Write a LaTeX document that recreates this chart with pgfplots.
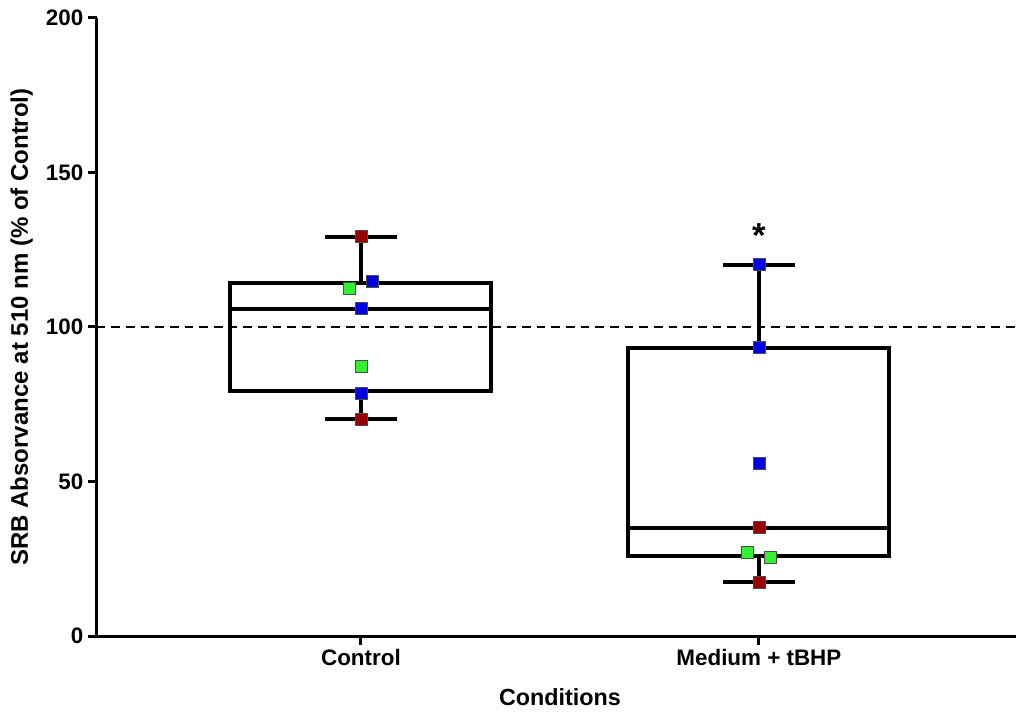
\documentclass[border=0pt]{standalone}
\usepackage{pgfplots}
\pgfplotsset{compat=1.18}
\usepackage{fontspec}
\setmainfont{Liberation Sans}
\definecolor{pr}{RGB}{155,0,0}
\definecolor{pb}{RGB}{0,0,225}
\definecolor{pg}{RGB}{50,240,50}
\begin{document}
\begin{tikzpicture}
\begin{axis}[
  scale only axis, width=689.5pt, height=463.5pt,
  xmin=-0.664, xmax=1.646, ymin=0, ymax=200,
  axis x line*=bottom, axis y line*=left,
  axis line style={line width=2.25pt, black},
  xtick={0,1}, xticklabels={Control, Medium + tBHP},
  ytick={0,50,100,150,200},
  tick align=outside, major tick length=6.5pt,
  tick style={line width=2.25pt, black},
  /pgf/number format/assume math mode=true,
  ticklabel style={font=\bfseries\fontsize{16.8}{20}\selectfont},
  xlabel={Conditions},
  ylabel={SRB Absorvance at 510 nm (\% of Control)},
  xlabel style={font=\bfseries\fontsize{17.5}{21}\selectfont, at={(axis description cs:0.504,-0.0987)}, anchor=center},
  ylabel style={font=\bfseries\fontsize{18}{21}\selectfont, at={(axis description cs:-0.0816,0.5)}, anchor=center},
  clip=false,
]
\addplot[black, line width=1.5pt, dash pattern=on 6.5pt off 4.5pt, forget plot] coordinates {(-0.664,100) (1.646,100)};

% Control box
\addplot[black, line width=3pt, line join=miter, mark=none] coordinates {(-0.328,79.3) (0.328,79.3) (0.328,114.1) (-0.328,114.1) (-0.328,79.3) (0.328,79.3)};
\addplot[black, line width=3pt, mark=none] coordinates {(-0.328,105.9) (0.328,105.9)};
\addplot[black, line width=3pt, mark=none] coordinates {(0,114.1) (0,129.2)};
\addplot[black, line width=3pt, mark=none] coordinates {(0,79.3) (0,70.2)};
\addplot[black, line width=3pt, mark=none] coordinates {(-0.0905,129.2) (0.0905,129.2)};
\addplot[black, line width=3pt, mark=none] coordinates {(-0.0905,70.2) (0.0905,70.2)};
% Medium + tBHP box
\addplot[black, line width=3pt, line join=miter, mark=none] coordinates {(0.672,26.0) (1.328,26.0) (1.328,93.1) (0.672,93.1) (0.672,26.0) (1.328,26.0)};
\addplot[black, line width=3pt, mark=none] coordinates {(0.672,35.0) (1.328,35.0)};
\addplot[black, line width=3pt, mark=none] coordinates {(1,93.1) (1,120.1)};
\addplot[black, line width=3pt, mark=none] coordinates {(1,26.0) (1,17.4)};
\addplot[black, line width=3pt, mark=none] coordinates {(0.9095,120.1) (1.0905,120.1)};
\addplot[black, line width=3pt, mark=none] coordinates {(0.9095,17.4) (1.0905,17.4)};

\addplot[only marks, mark=square*, mark size=4.5pt, mark options={fill=pr, draw=black!70, line width=0.6pt, solid}] coordinates {(0,129.2) (0,70.2) (1,35.0) (1,17.4)};
\addplot[only marks, mark=square*, mark size=4.5pt, mark options={fill=pg, draw=black!70, line width=0.6pt, solid}] coordinates {(-0.030,112.4) (0,87.1) (0.970,27.0) (1.028,25.3)};
\addplot[only marks, mark=square*, mark size=4.5pt, mark options={fill=pb, draw=black!70, line width=0.6pt, solid}] coordinates {(0.030,114.7) (0,105.9) (0,78.6) (1,120.1) (1,93.4) (1,55.9)};

\node[anchor=base, font=\bfseries\fontsize{26}{30}\selectfont] at (axis cs:1,125.6) {*};
\end{axis}
\pgfresetboundingbox
\path ([shift={(-72.5pt,-57.75pt)}]current axis.south west) rectangle ([shift={(0pt,13.5pt)}]current axis.north east);
\end{tikzpicture}
\end{document}
